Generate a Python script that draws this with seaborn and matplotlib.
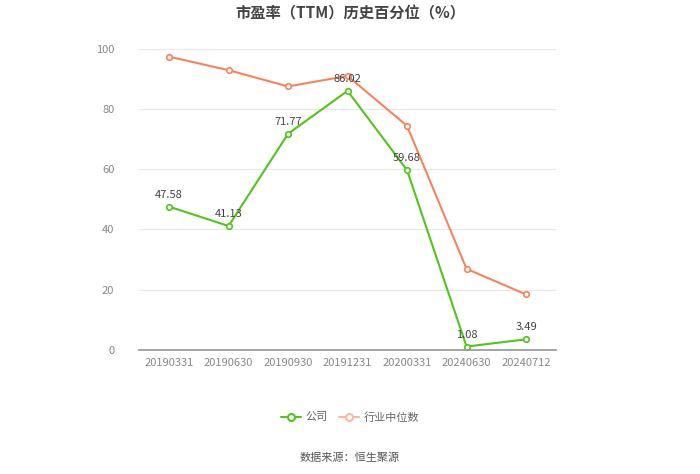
import matplotlib
matplotlib.use("Agg")
import matplotlib.pyplot as plt
import seaborn as sns
import pandas as pd
from matplotlib.lines import Line2D

categories = ["20190331", "20190630", "20190930", "20191231", "20200331", "20240630", "20240712"]
company = [47.58, 41.13, 71.77, 86.02, 59.68, 1.08, 3.49]
industry = [97.4, 92.9, 87.5, 91.0, 74.4, 26.9, 18.4]
labels_company = ["47.58", "41.13", "71.77", "86.02", "59.68", "1.08", "3.49"]

sns.set_theme(style="white")
plt.rcParams['font.family'] = ['Noto Sans CJK SC', 'DejaVu Sans']

green = "#52c41a"
orange = "#f4845b"

df = pd.DataFrame({"date": categories * 2,
                   "value": company + industry,
                   "series": ["公司"] * 7 + ["行业中位数"] * 7})

fig = plt.figure(figsize=(7, 4.74), dpi=100)
ax = fig.add_axes([0.199, 0.262, 0.595, 0.635])

sns.lineplot(data=df, x="date", y="value", hue="series", palette=[green, orange],
             marker="o", markersize=4, markerfacecolor="white", markeredgewidth=1.2,
             linewidth=1.5, ax=ax, legend=False, sort=False)
for line, c in zip(ax.lines, [green, orange]):
    line.set_markeredgecolor(c)

for i, (v, t) in enumerate(zip(company, labels_company)):
    ax.annotate(t, (i, v), xytext=(0, 5), textcoords="offset points",
                ha="center", va="bottom", fontsize=8, color="#444444")

ax.set_xlim(-0.5, 6.5)
ax.set_ylim(0, 100)
ax.set_yticks([0, 20, 40, 60, 80, 100])
ax.yaxis.grid(True, color="#e8e8e8", linewidth=0.8)
ax.set_axisbelow(True)
for s in ["left", "right", "top"]:
    ax.spines[s].set_visible(False)
ax.spines["bottom"].set_color("#999999")
ax.tick_params(axis="x", length=4, color="#999999", labelsize=8, labelcolor="#888888", pad=2)
ax.tick_params(axis="y", length=0, labelsize=8, labelcolor="#888888", pad=18)
ax.set_xlabel("")
ax.set_ylabel("")

fig.text(0.5, 0.972, "市盈率（TTM）历史百分位（%）", ha="center", va="center",
         fontsize=11, fontweight="bold", color="#444444")

handles = [Line2D([0], [0], color=green, marker="o", markersize=5, markerfacecolor="white",
                  markeredgecolor=green, markeredgewidth=1.5, linewidth=1.5),
           Line2D([0], [0], color="#f7b9a2", marker="o", markersize=5, markerfacecolor="white",
                  markeredgecolor="#f7b9a2", markeredgewidth=1.5, linewidth=1.5)]
fig.legend(handles, ["公司", "行业中位数"], loc="center", bbox_to_anchor=(0.5, 0.12),
           ncol=2, frameon=False, fontsize=8, labelcolor="#666666", handlelength=1.8,
           columnspacing=1.0, handletextpad=0.4)

fig.text(0.5, 0.035, "数据来源：恒生聚源", ha="center", va="center", fontsize=8, color="#555555")

fig.savefig("out.png", dpi=100)
